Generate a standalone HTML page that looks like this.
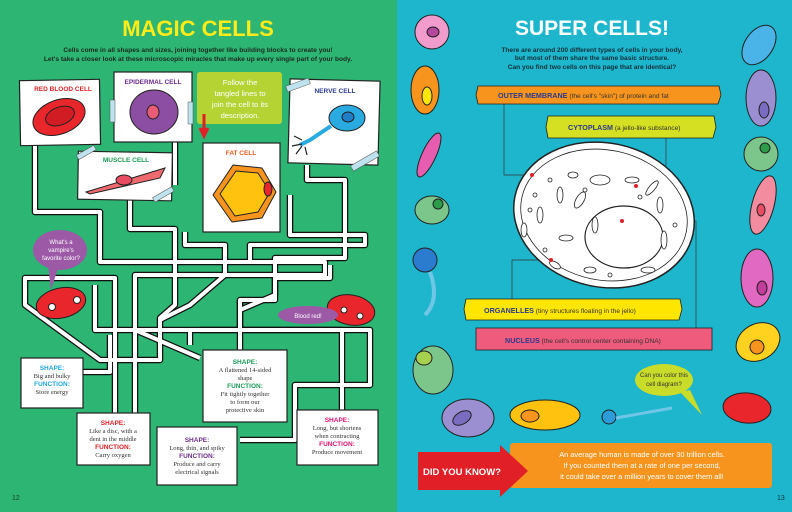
<!DOCTYPE html>
<html><head><meta charset="utf-8"><style>
html,body{margin:0;padding:0;width:792px;height:512px;overflow:hidden;background:#2db573}
svg{display:block}
text{font-family:"Liberation Sans",sans-serif}
.t{font-family:"Liberation Serif",serif;font-size:6.5px;fill:#333;text-anchor:middle}
.h{font-family:"Liberation Sans",sans-serif;font-weight:bold;font-size:6.5px;text-anchor:middle}
</style></head><body>
<svg width="792" height="512" viewBox="0 0 792 512" xmlns="http://www.w3.org/2000/svg">
<rect x="0" y="0" width="397" height="512" fill="#2db573"/>
<rect x="397" y="0" width="395" height="512" fill="#1db6cc"/>

<!-- LEFT PAGE -->
<text x="198" y="36" font-size="22" font-weight="bold" fill="#ffea1a" text-anchor="middle" font-family="Liberation Sans">MAGIC CELLS</text>
<text x="198" y="52" font-size="6.6" font-weight="bold" fill="#1a2b20" text-anchor="middle">Cells come in all shapes and sizes, joining together like building blocks to create you!</text>
<text x="198" y="61" font-size="6.6" font-weight="bold" fill="#1a2b20" text-anchor="middle">Let's take a closer look at these microscopic miracles that make up every single part of your body.</text>

<!-- maze -->
<g fill="none" stroke-linejoin="round">
<g stroke="#111" stroke-width="6.5">
<path d="M35 145 V212 H100 V262 H325 V275 H135 V330 L200 358"/>
<path d="M130 200 V229 H175 V305 L160 318 V360 H100 L25 305 V278 H115 V415"/>
<path d="M185 232 V245 H225 V275 L190 305 L160 320"/>
<path d="M175 130 V185 M175 230"/>
<path d="M307 165 V180 H345 V258 H275 V300 H240 V350"/>
<path d="M290 195 V235 H365 V245 H250 V260"/>
<path d="M240 300 V330 H200 V332"/>
<path d="M240 310 L275 295 V278 H330 V265"/>
<path d="M95 285 V330 H342 V410"/>
<path d="M190 330 V345"/>
<path d="M240 330 H370 V385 H295 V440 H240"/>
<path d="M83 372 H110 V335"/>
<path d="M135 415 V330"/>
</g>
<g stroke="#fff" stroke-width="4">
<path d="M35 145 V212 H100 V262 H325 V275 H135 V330 L200 358"/>
<path d="M130 200 V229 H175 V305 L160 318 V360 H100 L25 305 V278 H115 V415"/>
<path d="M185 232 V245 H225 V275 L190 305 L160 320"/>
<path d="M175 130 V185 M175 230"/>
<path d="M307 165 V180 H345 V258 H275 V300 H240 V350"/>
<path d="M290 195 V235 H365 V245 H250 V260"/>
<path d="M240 300 V330 H200 V332"/>
<path d="M240 310 L275 295 V278 H330 V265"/>
<path d="M95 285 V330 H342 V410"/>
<path d="M190 330 V345"/>
<path d="M240 330 H370 V385 H295 V440 H240"/>
<path d="M83 372 H110 V335"/>
<path d="M135 415 V330"/>
</g>
</g>

<!-- cards -->
<g stroke="#222" stroke-width="1.2">
<rect x="20" y="80" width="80" height="65" fill="#fff" transform="rotate(-1 60 112)"/>
<rect x="114" y="72" width="78" height="70" fill="#fff"/>
<rect x="78" y="152" width="94" height="48" fill="#fff" transform="rotate(1 125 176)"/>
<rect x="203" y="143" width="77" height="89" fill="#fff"/>
<rect x="289" y="80" width="90" height="84" fill="#fff" transform="rotate(1.5 334 122)"/>
</g>
<rect x="197" y="72" width="85" height="52" rx="3" fill="#b6d334"/>
<text x="240" y="85" font-size="7.6" fill="#fff" text-anchor="middle">Follow the</text>
<text x="240" y="96" font-size="7.6" fill="#fff" text-anchor="middle">tangled lines to</text>
<text x="240" y="107" font-size="7.6" fill="#fff" text-anchor="middle">join the cell to its</text>
<text x="240" y="118" font-size="7.6" fill="#fff" text-anchor="middle">description.</text>
<path d="M204 114 V134 M200 128 L204 136 L208 128" stroke="#e01f26" stroke-width="3" fill="#e01f26"/>

<text x="63" y="91" font-size="6.5" font-weight="bold" fill="#e01f26" text-anchor="middle">RED BLOOD CELL</text>
<ellipse cx="59" cy="117" rx="27" ry="17" fill="#e8262c" stroke="#222" transform="rotate(-20 59 117)"/>
<ellipse cx="60" cy="116" rx="15" ry="9" fill="#d01c22" stroke="#222" transform="rotate(-20 60 116)"/>
<text x="153" y="84" font-size="6.5" font-weight="bold" fill="#6b2d8f" text-anchor="middle">EPIDERMAL CELL</text>
<ellipse cx="154" cy="112" rx="24" ry="22" fill="#8c4ea2" stroke="#222"/>
<ellipse cx="153" cy="112" rx="6" ry="7" fill="#ea5b78" stroke="#222"/>
<text x="335" y="93" font-size="6.5" font-weight="bold" fill="#2b3990" text-anchor="middle">NERVE CELL</text>
<ellipse cx="347" cy="118" rx="18" ry="13" fill="#29abe2" stroke="#222"/>
<ellipse cx="348" cy="117" rx="6" ry="5" fill="#1e7ec8" stroke="#222"/>
<path d="M331 126 L310 140 L300 145" stroke="#29abe2" stroke-width="4" fill="none"/>
<path d="M302 140 l-8 -4 M302 144 l-10 2 M302 146 l-6 8 M305 147 l2 8" stroke="#222" stroke-width="1.2"/>
<text x="126" y="162" font-size="6.5" font-weight="bold" fill="#1a9b55" text-anchor="middle">MUSCLE CELL</text>
<path d="M86 192 L165 168 L160 178 L90 194 Z" fill="#ee6a6e" stroke="#222"/>
<ellipse cx="124" cy="180" rx="8" ry="5" fill="#e94b63" stroke="#222"/>
<text x="241" y="155" font-size="6.5" font-weight="bold" fill="#f15a24" text-anchor="middle">FAT CELL</text>
<path d="M213 195 L233 165 L262 168 L276 192 L262 218 L232 222 Z" fill="#f7941d" stroke="#222" stroke-linejoin="round"/>
<path d="M220 194 L236 171 L258 173 L270 192 L258 212 L235 216 Z" fill="#ffc20e" stroke="#222" stroke-linejoin="round"/>
<ellipse cx="268" cy="189" rx="4" ry="7" fill="#e8262c" stroke="#222"/>
<!-- tape -->
<g fill="#bfe3ee" stroke="#555" stroke-width="0.5">
<rect x="110" y="100" width="5" height="22"/><rect x="188" y="102" width="5" height="22"/>
<rect x="76" y="150" width="20" height="5" transform="rotate(-30 86 152)"/>
<rect x="152" y="192" width="22" height="5" transform="rotate(-30 163 194)"/>
<rect x="286" y="82" width="24" height="6" transform="rotate(-20 298 85)"/>
<rect x="350" y="158" width="30" height="6" transform="rotate(-30 365 161)"/>
</g>

<!-- bubbles & characters -->
<ellipse cx="60" cy="250" rx="27" ry="20" fill="#9b59a6"/>
<path d="M48 265 L51 290 L58 268 Z" fill="#9b59a6"/>
<text x="61" y="244" font-size="6" fill="#fff" text-anchor="middle">What's a</text>
<text x="61" y="252" font-size="6" fill="#fff" text-anchor="middle">vampire's</text>
<text x="61" y="260" font-size="6" fill="#fff" text-anchor="middle">favorite color?</text>
<ellipse cx="61" cy="303" rx="25" ry="15" fill="#e8262c" stroke="#222" transform="rotate(-12 61 303)"/>
<circle cx="52" cy="307" r="3.5" fill="#fff" stroke="#222"/><circle cx="77" cy="300" r="3.5" fill="#fff" stroke="#222"/>
<ellipse cx="351" cy="310" rx="24" ry="15" fill="#e8262c" stroke="#222" transform="rotate(10 351 310)"/>
<circle cx="344" cy="310" r="3" fill="#fff" stroke="#222"/><circle cx="360" cy="316" r="3" fill="#fff" stroke="#222"/>
<ellipse cx="308" cy="315" rx="30" ry="9" fill="#9b59a6"/>
<text x="308" y="318" font-size="6" fill="#fff" text-anchor="middle">Blood red!</text>

<!-- description boxes -->
<g stroke="#222" stroke-width="1.2" fill="#fff">
<rect x="21" y="358" width="62" height="50"/>
<rect x="77" y="413" width="73" height="52"/>
<rect x="157" y="427" width="80" height="58"/>
<rect x="203" y="350" width="84" height="72"/>
<rect x="297" y="410" width="81" height="55"/>
</g>
<text class="h" x="52" y="370" fill="#1fa9e1">SHAPE:</text>
<text class="t" x="52" y="378">Big and bulky</text>
<text class="h" x="52" y="386" fill="#1fa9e1">FUNCTION:</text>
<text class="t" x="52" y="394">Store energy</text>
<text class="h" x="113" y="425" fill="#e01f26">SHAPE:</text>
<text class="t" x="113" y="433">Like a disc, with a</text>
<text class="t" x="113" y="441">dent in the middle</text>
<text class="h" x="113" y="449" fill="#e01f26">FUNCTION:</text>
<text class="t" x="113" y="457">Carry oxygen</text>
<text class="h" x="197" y="442" fill="#6b2d8f">SHAPE:</text>
<text class="t" x="197" y="450">Long, thin, and spiky</text>
<text class="h" x="197" y="458" fill="#6b2d8f">FUNCTION:</text>
<text class="t" x="197" y="466">Produce and carry</text>
<text class="t" x="197" y="474">electrical signals</text>
<text class="h" x="245" y="364" fill="#1a9b55">SHAPE:</text>
<text class="t" x="245" y="372">A flattened 14-sided</text>
<text class="t" x="245" y="380">shape</text>
<text class="h" x="245" y="388" fill="#1a9b55">FUNCTION:</text>
<text class="t" x="245" y="396">Fit tightly together</text>
<text class="t" x="245" y="404">to form our</text>
<text class="t" x="245" y="412">protective skin</text>
<text class="h" x="337" y="422" fill="#e2136e">SHAPE:</text>
<text class="t" x="337" y="430">Long, but shortens</text>
<text class="t" x="337" y="438">when contracting</text>
<text class="h" x="337" y="446" fill="#e2136e">FUNCTION:</text>
<text class="t" x="337" y="454">Produce movement</text>
<text x="12" y="500" font-size="7" fill="#1a4030">12</text>

<!-- RIGHT PAGE -->
<text x="592" y="35" font-size="21" font-weight="bold" fill="#fff" text-anchor="middle">SUPER CELLS!</text>
<text x="592" y="52" font-size="6.6" font-weight="bold" fill="#12303a" text-anchor="middle">There are around 200 different types of cells in your body,</text>
<text x="592" y="60" font-size="6.6" font-weight="bold" fill="#12303a" text-anchor="middle">but most of them share the same basic structure.</text>
<text x="592" y="69" font-size="6.6" font-weight="bold" fill="#12303a" text-anchor="middle">Can you find two cells on this page that are identical?</text>

<g stroke="#333" stroke-width="0.7" fill="none">
<path d="M504 104 V175 H532"/><path d="M666 138 V165 L636 185"/>
<path d="M622 221 H696 V328"/><path d="M551 260 H512 V300"/>
</g>
<ellipse cx="604" cy="215" rx="91" ry="72" fill="#fff" stroke="#222" stroke-width="1.5" transform="rotate(12 604 215)"/>
<ellipse cx="604" cy="215" rx="84" ry="65" fill="none" stroke="#222" stroke-width="0.8" transform="rotate(12 604 215)"/>
<ellipse cx="624" cy="237" rx="39" ry="31" fill="#fff" stroke="#222" stroke-width="1.2"/>
<g fill="#fff" stroke="#222" stroke-width="0.8">
<ellipse cx="573" cy="175" rx="5" ry="3"/><ellipse cx="600" cy="180" rx="10" ry="5"/><ellipse cx="632" cy="180" rx="7" ry="3"/>
<ellipse cx="560" cy="195" rx="3" ry="8"/><ellipse cx="580" cy="200" rx="4" ry="9" transform="rotate(30 580 200)"/><ellipse cx="540" cy="215" rx="3" ry="8"/>
<ellipse cx="652" cy="188" rx="3" ry="9" transform="rotate(40 652 188)"/><ellipse cx="660" cy="205" rx="3" ry="8"/><ellipse cx="595" cy="225" rx="3" ry="8"/>
<ellipse cx="566" cy="238" rx="7" ry="3"/><ellipse cx="555" cy="265" rx="6" ry="3" transform="rotate(30 555 265)"/><ellipse cx="590" cy="270" rx="6" ry="3"/>
<ellipse cx="664" cy="240" rx="3" ry="9"/><ellipse cx="648" cy="270" rx="7" ry="3"/><ellipse cx="524" cy="230" rx="3" ry="7"/>
<circle cx="550" cy="180" r="2"/><circle cx="585" cy="190" r="2"/><circle cx="535" cy="195" r="2"/><circle cx="640" cy="197" r="2"/><circle cx="545" cy="250" r="2"/><circle cx="610" cy="275" r="2"/><circle cx="530" cy="210" r="2"/><circle cx="675" cy="225" r="2"/>
</g>
<g fill="#e01f26"><circle cx="532" cy="175" r="2"/><circle cx="636" cy="186" r="2"/><circle cx="622" cy="221" r="2"/><circle cx="551" cy="260" r="2"/></g>

<path d="M478 86 H719 L721 95 L718 104 H478 L476 95 Z" fill="#f7941d" stroke="#222" stroke-width="0.8"/>
<text x="498" y="98" font-size="7.2" fill="#2b3990"><tspan font-weight="bold">OUTER MEMBRANE</tspan><tspan fill="#333" font-size="6.6"> (the cell's "skin") of protein and fat</tspan></text>
<path d="M548 116 H714 L716 127 L713 138 H548 L546 127 Z" fill="#d4e021" stroke="#222" stroke-width="0.8"/>
<text x="568" y="130" font-size="7.2" fill="#2b3990"><tspan font-weight="bold">CYTOPLASM</tspan><tspan fill="#333" font-size="6.6"> (a jello-like substance)</tspan></text>
<path d="M466 299 H680 L682 309 L679 320 H466 L464 309 Z" fill="#ffe600" stroke="#222" stroke-width="0.8"/>
<text x="484" y="313" font-size="7.2" fill="#2b3990"><tspan font-weight="bold">ORGANELLES</tspan><tspan fill="#333" font-size="6.6"> (tiny structures floating in the jello)</tspan></text>
<rect x="476" y="328" width="236" height="22" fill="#ef5b7c" stroke="#222" stroke-width="0.8"/>
<text x="505" y="343" font-size="7.2" fill="#2b3990"><tspan font-weight="bold">NUCLEUS</tspan><tspan fill="#333" font-size="6.6"> (the cell's control center containing DNA)</tspan></text>

<!-- decorative cells -->
<g stroke="#222" stroke-width="1">
<circle cx="432" cy="32" r="17" fill="#f29bcd"/><ellipse cx="433" cy="32" rx="6" ry="5" fill="#b5479c"/>
<ellipse cx="425" cy="90" rx="14" ry="24" fill="#f7941d"/><ellipse cx="427" cy="96" rx="5" ry="9" fill="#ffe600"/>
<ellipse cx="429" cy="155" rx="7" ry="24" fill="#e65cae" transform="rotate(25 429 155)"/>
<ellipse cx="432" cy="210" rx="17" ry="14" fill="#7dc68b"/><circle cx="438" cy="204" r="5" fill="#2b9c47"/>
<circle cx="425" cy="260" r="12" fill="#2b7ccf"/>
<path d="M430 272 Q440 300 425 315" stroke="#6fc6e6" stroke-width="4" fill="none"/>
<ellipse cx="433" cy="370" rx="20" ry="24" fill="#7dc68b"/><ellipse cx="424" cy="358" rx="8" ry="7" fill="#a6d14f"/>
<ellipse cx="468" cy="418" rx="26" ry="19" fill="#9b8fd1"/><ellipse cx="462" cy="418" rx="10" ry="6" fill="#7a6cc0" transform="rotate(-30 462 418)"/>
<ellipse cx="545" cy="415" rx="35" ry="15" fill="#ffc20e"/><ellipse cx="530" cy="416" rx="9" ry="6" fill="#f7941d"/>
<circle cx="609" cy="417" r="7" fill="#2b9cd8"/><path d="M616 418 L672 408" stroke="#6fc6e6" stroke-width="3"/>
<ellipse cx="747" cy="408" rx="24" ry="15" fill="#e8262c" transform="rotate(5 747 408)"/>
<ellipse cx="759" cy="45" rx="14" ry="22" fill="#4ab3e8" transform="rotate(35 759 45)"/>
<ellipse cx="761" cy="98" rx="15" ry="28" fill="#9b8fd1"/><ellipse cx="764" cy="110" rx="5" ry="8" fill="#7a6cc0"/>
<ellipse cx="761" cy="154" rx="17" ry="17" fill="#7dc68b"/><circle cx="765" cy="148" r="5" fill="#2b9c47"/>
<ellipse cx="763" cy="205" rx="11" ry="30" fill="#f28c9e" transform="rotate(15 763 205)"/><ellipse cx="761" cy="210" rx="4" ry="6" fill="#e94b63"/>
<ellipse cx="757" cy="278" rx="16" ry="29" fill="#e269c2"/><ellipse cx="762" cy="288" rx="5" ry="7" fill="#c23c9c"/>
<ellipse cx="758" cy="342" rx="23" ry="18" fill="#ffd21f" transform="rotate(-30 758 342)"/><circle cx="757" cy="347" r="7" fill="#f7941d"/>
</g>
<ellipse cx="664" cy="380" rx="29" ry="16" fill="#c9dc2a"/>
<path d="M680 392 L702 415 L690 390 Z" fill="#c9dc2a"/>
<text x="664" y="377" font-size="6" fill="#333" text-anchor="middle">Can you color this</text>
<text x="664" y="386" font-size="6" fill="#333" text-anchor="middle">cell diagram?</text>

<rect x="510" y="443" width="262" height="45" rx="3" fill="#f7941d"/>
<path d="M418 452 H500 V445 L528 471 L500 497 V490 H418 Z" fill="#e01f26"/>
<text x="462" y="475" font-size="9.5" font-weight="bold" fill="#fff" text-anchor="middle">DID YOU KNOW?</text>
<text x="642" y="457" font-size="7.4" fill="#fff" text-anchor="middle">An average human is made of over 30 trillion cells.</text>
<text x="642" y="468" font-size="7.4" fill="#fff" text-anchor="middle">If you counted them at a rate of one per second,</text>
<text x="642" y="479" font-size="7.4" fill="#fff" text-anchor="middle">it could take over a million years to cover them all!</text>
<text x="777" y="500" font-size="7" fill="#12303a">13</text>
</svg>
</body></html>
